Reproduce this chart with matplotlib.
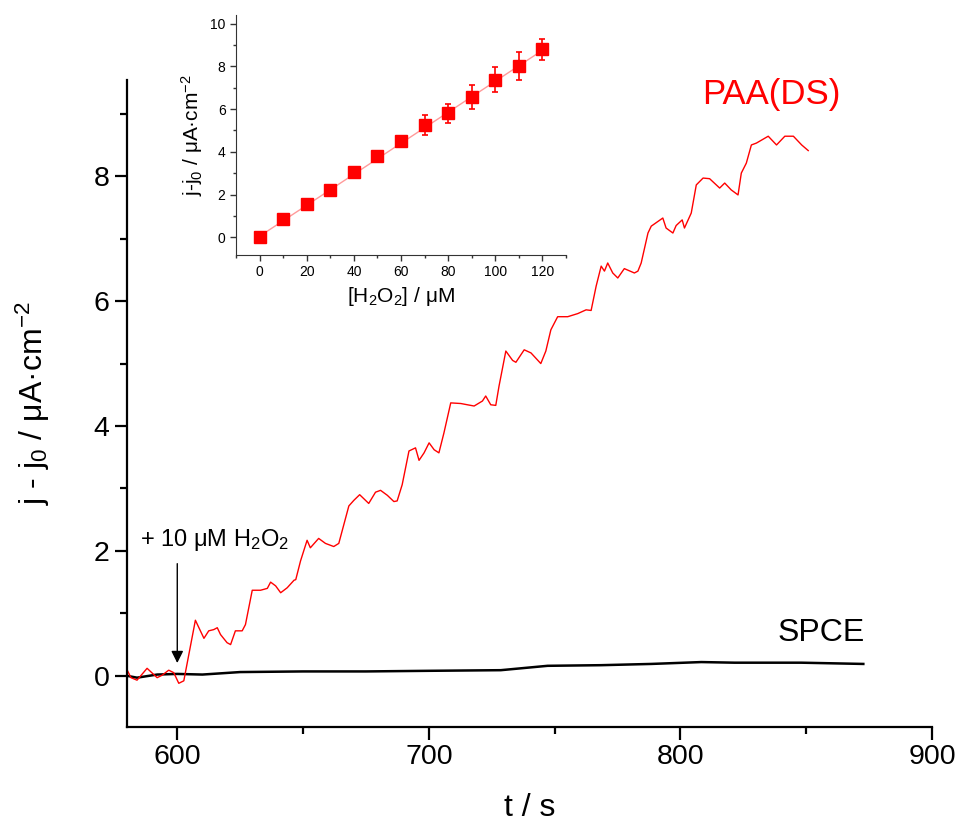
import matplotlib.pyplot as plt
from matplotlib.ticker import MultipleLocator

plt.rcParams['font.family'] = ['Liberation Sans', 'DejaVu Sans']
plt.rcParams['mathtext.fontset'] = 'custom'
plt.rcParams['mathtext.rm'] = 'Liberation Sans'
plt.rcParams['mathtext.it'] = 'Liberation Sans'

# PAA(DS) chronoamperometry trace
t_paa = [580, 581.6, 584, 588, 592, 594, 596.6, 598.6, 600.6, 602.6, 607.2, 608.6,
         610.6, 612.5, 614.5, 615.9, 617.2, 619.8, 621.2, 623.1, 625.8, 627.1, 629.8,
         633.1, 635.8, 637.1, 639.1, 641.1, 643.7, 646.4, 647.1, 649.0, 651.6, 652.9,
         656.2, 658.9, 662.2, 664.2, 666.2, 668.2, 670.2, 672.5, 676.1, 678.8, 680.8,
         683.5, 686.1, 687.4, 689.4, 692.1, 694.7, 696.1, 698.1, 700.1, 702.1, 704.0,
         706.0, 708.7, 712.7, 715.3, 718.0, 721.3, 722.6, 724.6, 726.6, 727.9, 730.6,
         733.3, 734.6, 737.9, 740.6, 744.5, 746.5, 748.5, 751.2, 755.2, 759.2, 762.5,
         764.5, 766.5, 768.5, 769.8, 771.1, 773.1, 775.1, 777.7, 781.7, 783.1, 784.4,
         787.1, 788.4, 793.0, 794.3, 797.0, 798.3, 800.7, 801.6, 804.3, 806.3, 809.0,
         811.6, 815.6, 817.6, 820.2, 822.9, 824.2, 826.2, 828.2, 830.2, 834.9, 838.2,
         841.5, 844.9, 848.2, 850.8]
j_paa = [0.10, -0.03, -0.07, 0.12, -0.03, 0.01, 0.09, 0.05, -0.12, -0.08, 0.89, 0.77,
         0.60, 0.72, 0.74, 0.77, 0.66, 0.53, 0.50, 0.72, 0.72, 0.82, 1.37,
         1.37, 1.40, 1.50, 1.44, 1.33, 1.41, 1.53, 1.54, 1.84, 2.17, 2.05,
         2.20, 2.12, 2.07, 2.12, 2.42, 2.72, 2.81, 2.90, 2.76, 2.94, 2.97,
         2.89, 2.79, 2.80, 3.06, 3.60, 3.65, 3.45, 3.57, 3.73, 3.62, 3.57,
         3.89, 4.37, 4.36, 4.34, 4.32, 4.40, 4.48, 4.34, 4.33, 4.64, 5.20,
         5.05, 5.02, 5.22, 5.17, 5.00, 5.20, 5.54, 5.75, 5.75, 5.80, 5.86,
         5.85, 6.24, 6.56, 6.48, 6.61, 6.45, 6.37, 6.52, 6.45, 6.48, 6.61,
         7.09, 7.20, 7.33, 7.17, 7.09, 7.21, 7.30, 7.17, 7.41, 7.86, 7.97,
         7.96, 7.81, 7.89, 7.78, 7.70, 8.05, 8.21, 8.50, 8.53, 8.64, 8.50,
         8.64, 8.64, 8.50, 8.41]

# SPCE trace
t_spce = [580, 584, 592, 600, 610, 625, 650, 675, 700, 728.6, 747.2, 768.4, 788.4,
          808.3, 821.5, 848, 872.7]
j_spce = [0.00, -0.03, 0.02, 0.03, 0.02, 0.06, 0.07, 0.07, 0.08, 0.09, 0.16, 0.17,
          0.19, 0.22, 0.21, 0.21, 0.19]

# inset calibration
conc = [0, 10, 20, 30, 40, 50, 60, 70, 80, 90, 100, 110, 120]
dj = [0.02, 0.84, 1.54, 2.23, 3.04, 3.78, 4.50, 5.24, 5.80, 6.57, 7.38, 8.00, 8.80]
dj_err = [0.0, 0.0, 0.0, 0.0, 0.0, 0.1, 0.18, 0.47, 0.45, 0.56, 0.57, 0.65, 0.5]
fit_x = [0, 120]
fit_y = [0.05, 8.75]

fig = plt.figure(figsize=(9.56, 8.24), dpi=100)
ax = fig.add_axes([0.1328, 0.1177, 0.8421, 0.7852])

ax.plot(t_spce, j_spce, color='black', lw=1.8)
ax.plot(t_paa, j_paa, color='red', lw=1.0)

ax.set_xlim(580, 900)
ax.set_ylim(-0.82, 9.54)
ax.xaxis.set_major_locator(MultipleLocator(100))
ax.xaxis.set_minor_locator(MultipleLocator(50))
ax.yaxis.set_major_locator(MultipleLocator(2))
ax.yaxis.set_minor_locator(MultipleLocator(1))
for s in ['top', 'right']:
    ax.spines[s].set_visible(False)
for s in ['left', 'bottom']:
    ax.spines[s].set_linewidth(1.6)
ax.tick_params(which='major', direction='out', length=9, width=1.6, labelsize=20.5)
ax.tick_params(which='minor', direction='out', length=5, width=1.6)
ax.set_xlabel('t / s', fontsize=23, labelpad=16)
ax.set_ylabel('j - j$_0$ / μA·cm$^{-2}$', fontsize=23, labelpad=30)

ax.annotate('', xy=(600, 0.16), xytext=(600, 1.84),
            arrowprops=dict(arrowstyle='-|>', color='black', lw=1, mutation_scale=18))
ax.text(585.2, 2.18, '+ 10 μM H$_2$O$_2$', fontsize=17, va='center', ha='left')
ax.text(836, 9.3, 'PAA(DS)', fontsize=25, color='red', ha='center', va='center')
ax.text(856, 0.68, 'SPCE', fontsize=23, color='black', ha='center', va='center')

# inset
ins = fig.add_axes([0.2469, 0.6905, 0.3452, 0.2913])
ins.patch.set_alpha(0)
ins.plot(fit_x, fit_y, color='#ff9a9a', lw=1)
ins.errorbar(conc, dj, yerr=dj_err, fmt='s', color='red', ms=9, capsize=2.5,
             elinewidth=1.2, capthick=1.2)
ins.set_xlim(-10, 130)
ins.set_ylim(-0.83, 10.4)
ins.xaxis.set_major_locator(MultipleLocator(20))
ins.xaxis.set_minor_locator(MultipleLocator(10))
ins.yaxis.set_major_locator(MultipleLocator(2))
ins.yaxis.set_minor_locator(MultipleLocator(1))
for s in ['top', 'right']:
    ins.spines[s].set_visible(False)
for s in ['left', 'bottom']:
    ins.spines[s].set_color('#333333')
ins.tick_params(which='major', direction='out', length=4, width=1, labelsize=10,
                color='#333333')
ins.tick_params(which='minor', direction='out', length=2.5, width=1, color='#333333')
ins.set_xlabel('[H$_2$O$_2$] / μM', fontsize=15)
ins.set_ylabel('j-j$_0$ / μA·cm$^{-2}$', fontsize=15)

fig.savefig('out.png', dpi=100)
